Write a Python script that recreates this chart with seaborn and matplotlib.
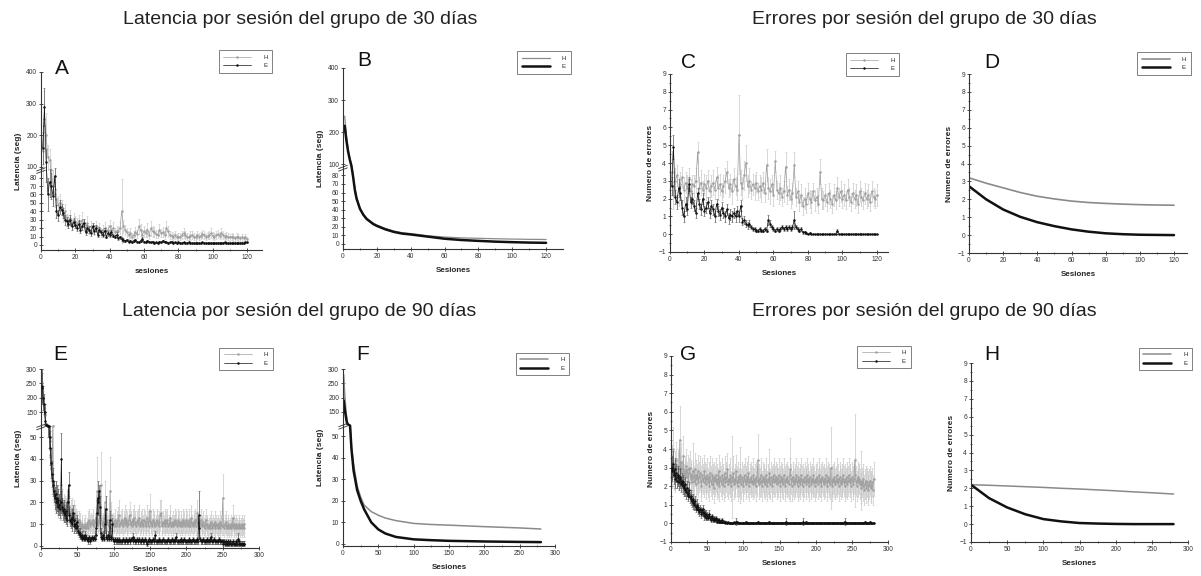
import numpy as np
import matplotlib
matplotlib.use("Agg")
import matplotlib.pyplot as plt
import seaborn as sns

# ---------------------------------------------------------------- data
# Grupo de 30 días: latencia media por sesión (seg) y su error
A_H = [150, 250, 200, 130, 120, 90, 70, 60, 55, 48,
       50, 45, 35, 40, 30, 28, 32, 25, 30, 27,
       25, 28, 22, 30, 24, 20, 26, 18, 22, 20,
       18, 22, 17, 20, 15, 18, 20, 16, 18, 22,
       18, 20, 15, 17, 16, 20, 40, 22, 18, 15,
       12, 14, 10, 12, 15, 13, 22, 18, 12, 16,
       14, 18, 12, 20, 16, 15, 13, 12, 18, 14,
       15, 12, 20, 16, 12, 11, 10, 12, 9, 10,
       10, 12, 14, 12, 10, 9, 11, 12, 10, 9,
       12, 10, 11, 13, 12, 10, 11, 12, 14, 11,
       10, 12, 13, 11, 14, 12, 10, 11, 10, 9,
       10, 9, 8, 10, 9, 8, 9, 8, 9, 7]
A_H_ERR = [80, 90, 70, 40, 35, 25, 20, 15, 12, 10,
           10, 9, 8, 9, 7, 8, 9, 6, 8, 7,
           7, 8, 6, 9, 7, 6, 8, 5, 7, 6,
           6, 7, 5, 6, 5, 6, 7, 5, 6, 8,
           6, 7, 5, 6, 5, 7, 38, 8, 6, 5,
           5, 6, 4, 5, 6, 5, 9, 7, 5, 6,
           5, 8, 5, 9, 6, 6, 5, 4, 7, 5,
           6, 5, 8, 6, 5, 4, 4, 5, 4, 4,
           4, 5, 6, 5, 4, 4, 5, 5, 4, 4,
           5, 4, 4, 5, 5, 4, 4, 5, 6, 4,
           4, 5, 5, 4, 6, 5, 4, 4, 4, 4,
           4, 4, 3, 4, 4, 3, 4, 3, 4, 3]
A_E = [160, 290, 115, 60, 75, 70, 58, 82, 40, 35,
       45, 42, 38, 30, 28, 25, 30, 22, 27, 24,
       20, 25, 18, 22, 26, 15, 20, 18, 14, 22,
       16, 20, 12, 18, 15, 12, 17, 10, 14, 12,
       15, 11, 10, 12, 8, 9, 7, 6, 5, 6,
       4, 5, 3, 5, 6, 4, 3, 5, 7, 4,
       3, 5, 4, 3, 4, 2, 3, 2, 4, 3,
       5, 4, 3, 2, 3, 4, 2, 3, 2, 3,
       2, 2, 3, 2, 2, 3, 2, 2, 2, 2,
       2, 2, 2, 3, 2, 2, 2, 2, 2, 2,
       2, 2, 2, 2, 2, 2, 3, 2, 2, 2,
       2, 2, 2, 2, 2, 2, 2, 2, 3, 3]
A_E_ERR = [50, 60, 40, 20, 18, 15, 12, 15, 8, 7,
           8, 7, 6, 6, 5, 5, 6, 4, 5, 4,
           4, 5, 4, 4, 5, 3, 4, 4, 3, 4,
           3, 4, 3, 3, 3, 3, 3, 2, 3, 3,
           3, 2, 2, 3, 2, 2, 2, 2, 1, 1,
           1, 1, 1, 1, 1, 1, 1, 1, 2, 1,
           1, 1, 1, 1, 1, 1, 1, 1, 1, 1,
           1, 1, 1, 1, 1, 1, 1, 1, 1, 1,
           1, 1, 1, 1, 1, 1, 1, 1, 1, 1,
           1, 1, 1, 1, 1, 1, 1, 1, 1, 1,
           1, 1, 1, 1, 1, 1, 1, 1, 1, 1,
           1, 1, 1, 1, 1, 1, 1, 1, 1, 1]

# Curvas ajustadas de latencia, grupo de 30 días
B_X = [1, 2, 3, 4, 5, 6, 7, 8, 10, 12, 14, 16, 18, 20, 25, 30, 35, 40,
       50, 60, 70, 80, 90, 100, 110, 120]
B_H = [250, 190, 150, 120, 100, 80, 65, 55, 42, 35, 30, 27, 24, 22, 18, 15,
       13, 12, 9.5, 8, 7, 6.5, 6, 5.6, 5.3, 5.1]
B_E = [220, 175, 140, 115, 95, 78, 63, 53, 41, 34, 29, 26, 23, 21, 17, 14,
       12, 11, 8.5, 6, 4.5, 3.5, 2.6, 2.0, 1.5, 1.2]

# Grupo de 30 días: número de errores por sesión
C_H = [3.5, 2.2, 3.0, 3.3, 2.4, 2.8, 3.2, 2.5, 2.9, 2.6,
       3.1, 2.4, 2.8, 2.7, 3.0, 4.6, 2.6, 2.9, 2.5, 2.8,
       2.6, 3.0, 2.4, 2.7, 2.9, 2.5, 3.2, 2.6, 2.8, 2.4,
       2.7, 3.0, 3.5, 2.6, 2.8, 2.4, 3.1, 2.7, 2.5, 5.6,
       2.9, 2.6, 3.3, 4.0, 2.7, 3.0, 2.5, 2.8, 2.6, 2.9,
       2.4, 2.7, 2.5, 2.9, 2.3, 3.9, 2.6, 2.4, 2.8, 2.2,
       4.1, 2.5, 2.3, 2.6, 2.1, 2.4, 3.8, 2.2, 2.5, 2.0,
       2.3, 3.9, 2.1, 2.4, 1.8, 2.2, 1.6, 2.0, 1.7, 2.3,
       2.0, 1.8, 2.4, 1.9, 2.1, 1.7, 3.5, 2.0, 1.9, 2.2,
       1.8, 2.3, 2.0, 1.7, 2.2, 1.9, 2.6, 2.1, 2.4, 2.0,
       2.2, 1.9, 2.5, 2.1, 1.8, 2.3, 2.0, 2.2, 1.7, 2.4,
       2.1, 1.9, 2.3, 2.0, 2.2, 1.8, 2.4, 2.1, 2.0, 2.2]
C_H_ERR = [1.2, 0.8, 0.7, 0.6, 0.8, 0.7, 0.6, 0.7, 0.6, 0.7,
           0.6, 0.7, 0.5, 0.6, 0.7, 0.6, 0.6, 0.7, 0.5, 0.6,
           0.7, 0.6, 0.5, 0.6, 0.7, 0.5, 0.6, 0.7, 0.6, 0.5,
           0.6, 0.7, 0.6, 0.5, 0.6, 0.7, 0.6, 0.5, 0.6, 2.2,
           0.7, 0.6, 0.8, 1.0, 0.6, 0.7, 0.5, 0.6, 0.7, 0.6,
           0.5, 0.6, 0.7, 0.6, 0.5, 0.9, 0.6, 0.7, 0.5, 0.6,
           0.6, 0.5, 0.6, 0.7, 0.5, 0.6, 0.8, 0.5, 0.6, 0.5,
           0.6, 0.7, 0.5, 0.6, 0.5, 0.6, 0.5, 0.6, 0.5, 0.6,
           0.5, 0.6, 0.5, 0.6, 0.5, 0.5, 0.7, 0.6, 0.5, 0.6,
           0.5, 0.6, 0.5, 0.5, 0.6, 0.5, 0.6, 0.5, 0.6, 0.5,
           0.6, 0.5, 0.6, 0.5, 0.5, 0.6, 0.5, 0.6, 0.5, 0.6,
           0.5, 0.5, 0.6, 0.5, 0.6, 0.5, 0.6, 0.5, 0.5, 0.6]
C_E = [2.7, 4.9, 2.1, 1.8, 2.6, 2.3, 1.5, 1.0, 1.7, 1.4,
       2.8, 1.8, 2.0, 1.6, 1.2, 2.3, 1.7, 1.4, 2.0, 1.3,
       1.5, 1.8, 1.2, 1.6, 1.4, 1.0, 1.7, 1.3, 1.1, 1.5,
       1.2, 1.0, 1.4, 0.9, 1.1, 1.0, 1.2, 1.0, 1.3, 1.0,
       1.6, 0.7, 0.8, 0.6, 0.5, 0.6, 0.4, 0.3, 0.3, 0.2,
       0.2, 0.3, 0.2, 0.2, 0.3, 0.2, 0.8, 0.6, 0.4, 0.3,
       0.2, 0.3, 0.2, 0.3, 0.4, 0.3, 0.4, 0.3, 0.4, 0.3,
       0.4, 0.8, 0.4, 0.3, 0.2, 0.3, 0.1, 0.1, 0.05, 0.0,
       0.05, 0.0, 0.0, 0.0, 0.0, 0.0, 0.0, 0.0, 0.0, 0.0,
       0.0, 0.0, 0.0, 0.0, 0.0, 0.0, 0.2, 0.0, 0.0, 0.0,
       0.0, 0.0, 0.0, 0.0, 0.0, 0.0, 0.0, 0.0, 0.0, 0.0,
       0.0, 0.0, 0.0, 0.0, 0.0, 0.0, 0.0, 0.0, 0.0, 0.0]
C_E_ERR = [0.5, 0.7, 0.4, 0.4, 0.5, 0.4, 0.4, 0.3, 0.4, 0.3,
           0.4, 0.3, 0.3, 0.3, 0.3, 0.3, 0.3, 0.3, 0.3, 0.3,
           0.3, 0.3, 0.3, 0.3, 0.3, 0.3, 0.3, 0.3, 0.3, 0.3,
           0.3, 0.3, 0.3, 0.3, 0.3, 0.3, 0.3, 0.3, 0.3, 0.3,
           0.3, 0.2, 0.2, 0.2, 0.2, 0.2, 0.1, 0.1, 0.1, 0.1,
           0.1, 0.1, 0.1, 0.1, 0.1, 0.1, 0.3, 0.2, 0.1, 0.1,
           0.1, 0.1, 0.1, 0.1, 0.1, 0.1, 0.1, 0.1, 0.1, 0.1,
           0.1, 0.5, 0.1, 0.1, 0.1, 0.1, 0.1, 0.1, 0.05, 0.0,
           0.05, 0.0, 0.0, 0.0, 0.0, 0.0, 0.0, 0.0, 0.0, 0.0,
           0.0, 0.0, 0.0, 0.0, 0.0, 0.0, 0.1, 0.0, 0.0, 0.0,
           0.0, 0.0, 0.0, 0.0, 0.0, 0.0, 0.0, 0.0, 0.0, 0.0,
           0.0, 0.0, 0.0, 0.0, 0.0, 0.0, 0.0, 0.0, 0.0, 0.0]

# Curvas ajustadas de errores, grupo de 30 días
D_X = [0, 10, 20, 30, 40, 50, 60, 70, 80, 90, 100, 110, 120]
D_H = [3.2, 2.9, 2.64, 2.38, 2.17, 2.02, 1.9, 1.82, 1.77, 1.73, 1.70, 1.68, 1.67]
D_E = [2.73, 2.0, 1.43, 1.02, 0.72, 0.5, 0.32, 0.19, 0.1, 0.05, 0.02, 0.01, 0.0]

# Grupo de 90 días: latencia media por sesión (seg) y su error
E_H = [250, 220, 190, 170, 140, 110, 90, 75, 65, 58,
       52, 48, 42, 36, 30, 55, 26, 24, 22, 20,
       24, 20, 18, 22, 19, 16, 20, 18, 21, 17,
       19, 16, 18, 15, 17, 20, 16, 14, 18, 15,
       16, 14, 17, 13, 15, 12, 14, 13, 11, 12,
       10, 12, 9, 11, 8, 10, 9, 7, 9, 8,
       10, 8, 9, 11, 8, 12, 10, 9, 11, 10,
       12, 10, 9, 11, 13, 10, 25, 12, 10, 11,
       14, 28, 12, 10, 11, 9, 13, 20, 11, 10,
       12, 10, 9, 11, 25, 14, 12, 10, 11, 9,
       10, 12, 9, 11, 10, 12, 14, 9, 10, 11,
       12, 10, 9, 11, 13, 10, 12, 9, 11, 10,
       12, 14, 10, 11, 9, 12, 10, 13, 11, 10,
       9, 11, 12, 10, 13, 9, 11, 10, 12, 9,
       10, 12, 11, 9, 10, 13, 11, 9, 12, 16,
       10, 11, 9, 12, 10, 11, 9, 10, 12, 11,
       10, 9, 11, 14, 15, 10, 9, 11, 10, 12,
       9, 11, 10, 12, 9, 10, 11, 13, 9, 10,
       11, 9, 10, 12, 10, 11, 9, 10, 12, 11,
       9, 10, 11, 9, 12, 10, 11, 9, 10, 12,
       11, 9, 10, 12, 9, 11, 13, 10, 9, 11,
       10, 12, 9, 11, 15, 10, 9, 11, 10, 12,
       9, 10, 11, 9, 8, 10, 12, 9, 10, 8,
       9, 10, 8, 11, 9, 8, 10, 9, 11, 8,
       10, 9, 8, 10, 9, 11, 8, 10, 9, 22,
       9, 8, 10, 9, 11, 8, 9, 10, 8, 9,
       10, 8, 9, 13, 8, 10, 9, 8, 10, 9,
       8, 10, 9, 8, 9, 10, 8, 9, 8, 10]
E_H_ERR = [50, 40, 35, 30, 25, 20, 15, 12, 10, 8,
           8, 7, 7, 6, 6, 20, 5, 5, 6, 5,
           6, 5, 5, 6, 5, 4, 5, 6, 5, 4,
           5, 4, 5, 4, 5, 6, 4, 4, 5, 4,
           5, 4, 5, 4, 6, 4, 5, 4, 3, 4,
           3, 4, 3, 4, 3, 4, 3, 3, 4, 3,
           4, 3, 4, 5, 3, 5, 4, 3, 4, 4,
           5, 4, 3, 4, 5, 4, 16, 5, 4, 4,
           6, 15, 5, 4, 4, 3, 5, 10, 4, 4,
           5, 4, 3, 4, 16, 6, 5, 4, 4, 3,
           4, 5, 4, 5, 4, 6, 7, 4, 4, 5,
           5, 4, 4, 5, 6, 4, 5, 4, 5, 4,
           5, 6, 4, 5, 4, 5, 4, 6, 5, 4,
           4, 5, 5, 4, 6, 4, 5, 4, 5, 4,
           4, 5, 5, 4, 4, 6, 5, 4, 5, 8,
           4, 5, 4, 5, 4, 5, 4, 4, 5, 5,
           4, 4, 5, 7, 6, 4, 4, 5, 4, 5,
           4, 5, 4, 5, 4, 4, 5, 6, 4, 4,
           5, 4, 4, 5, 4, 5, 4, 4, 5, 5,
           4, 4, 5, 4, 5, 4, 5, 4, 4, 5,
           5, 4, 4, 5, 4, 5, 6, 4, 4, 5,
           4, 5, 4, 5, 6, 4, 4, 5, 4, 5,
           4, 4, 5, 4, 4, 4, 5, 4, 4, 4,
           4, 4, 4, 5, 4, 4, 4, 4, 5, 4,
           4, 4, 4, 4, 4, 5, 4, 4, 4, 11,
           4, 4, 4, 4, 5, 4, 4, 4, 4, 4,
           4, 4, 4, 6, 4, 4, 4, 4, 4, 4,
           4, 4, 4, 4, 4, 4, 4, 4, 4, 4]
E_E = [240, 235, 200, 180, 150, 120, 95, 80, 70, 60,
       55, 50, 45, 38, 33, 30, 28, 25, 22, 24,
       20, 22, 18, 21, 19, 17, 20, 40, 18, 16,
       17, 15, 14, 16, 13, 12, 20, 28, 14, 12,
       11, 13, 10, 15, 12, 9, 10, 8, 11, 9,
       7, 6, 5, 6, 4, 5, 3, 4, 3, 5,
       3, 4, 3, 2, 3, 4, 3, 2, 3, 4,
       3, 3, 4, 3, 5, 8, 15, 22, 20, 25,
       18, 6, 4, 3, 5, 4, 3, 10, 17, 4,
       3, 5, 4, 3, 12, 4, 3, 10, 3, 2,
       2, 3, 2, 2, 3, 2, 2, 3, 2, 2,
       2, 2, 3, 2, 2, 2, 3, 2, 2, 2,
       3, 2, 2, 3, 3, 2, 4, 3, 2, 2,
       2, 3, 2, 2, 3, 2, 2, 2, 3, 2,
       2, 2, 3, 2, 2, 1, 2, 2, 3, 2,
       2, 2, 2, 3, 2, 2, 5, 2, 2, 2,
       2, 2, 3, 2, 2, 2, 2, 3, 2, 2,
       2, 2, 2, 2, 3, 2, 2, 2, 2, 3,
       2, 2, 2, 3, 2, 4, 2, 2, 2, 2,
       2, 3, 2, 2, 2, 2, 3, 2, 2, 2,
       2, 2, 2, 3, 2, 2, 2, 2, 3, 2,
       2, 2, 2, 3, 2, 2, 14, 8, 3, 2,
       2, 2, 3, 2, 2, 2, 2, 3, 2, 2,
       2, 3, 2, 4, 2, 2, 2, 3, 2, 2,
       2, 2, 2, 2, 3, 2, 2, 2, 2, 2,
       1, 2, 1, 2, 1, 1, 2, 1, 1, 2,
       1, 1, 1, 2, 1, 1, 1, 1, 2, 1,
       3, 2, 1, 1, 1, 1, 1, 1, 1, 1]
E_E_ERR = [60, 50, 40, 35, 30, 25, 20, 15, 12, 10,
           10, 9, 8, 7, 6, 6, 5, 5, 5, 6,
           5, 6, 4, 5, 5, 4, 5, 12, 4, 4,
           4, 4, 3, 4, 3, 3, 5, 6, 3, 3,
           3, 4, 3, 4, 3, 3, 3, 2, 3, 3,
           2, 2, 2, 2, 1, 2, 1, 1, 1, 2,
           1, 1, 1, 1, 1, 1, 1, 1, 1, 1,
           1, 1, 1, 1, 2, 3, 6, 8, 5, 3,
           5, 2, 1, 1, 2, 1, 1, 4, 6, 1,
           1, 2, 1, 1, 4, 1, 1, 3, 1, 1,
           1, 1, 1, 1, 1, 1, 1, 1, 1, 1,
           1, 1, 1, 1, 1, 1, 1, 1, 1, 1,
           1, 1, 1, 1, 1, 1, 2, 1, 1, 1,
           1, 1, 1, 1, 1, 1, 1, 1, 1, 1,
           1, 1, 1, 1, 1, 1, 1, 1, 1, 1,
           1, 1, 1, 1, 1, 1, 2, 1, 1, 1,
           1, 1, 1, 1, 1, 1, 1, 1, 1, 1,
           1, 1, 1, 1, 1, 1, 1, 1, 1, 1,
           1, 1, 1, 1, 1, 2, 1, 1, 1, 1,
           1, 1, 1, 1, 1, 1, 1, 1, 1, 1,
           1, 1, 1, 1, 1, 1, 1, 1, 1, 1,
           1, 1, 1, 1, 1, 1, 11, 5, 1, 1,
           1, 1, 1, 1, 1, 1, 1, 1, 1, 1,
           1, 1, 1, 2, 1, 1, 1, 1, 1, 1,
           1, 1, 1, 1, 1, 1, 1, 1, 1, 1,
           1, 1, 1, 1, 1, 1, 1, 1, 1, 1,
           1, 1, 1, 1, 1, 1, 1, 1, 1, 1,
           3, 1, 1, 1, 1, 1, 1, 1, 1, 1]

# Curvas ajustadas de latencia, grupo de 90 días
F_X = [1, 2, 3, 4, 5, 6, 8, 10, 12, 15, 20, 25, 30, 40, 50, 60, 75,
       100, 125, 150, 200, 250, 280]
F_H = [280, 230, 190, 160, 135, 115, 80, 56, 45, 37, 27, 21.7, 18, 15,
       13.3, 12, 10.8, 9.5, 9.0, 8.7, 8.0, 7.4, 6.9]
F_E = [190, 170, 150, 135, 120, 100, 75, 55, 44, 34, 25, 20, 16, 10,
       6.7, 4.8, 3.2, 2.1, 1.7, 1.4, 1.1, 0.9, 0.8]

# Grupo de 90 días: número de errores por sesión
G_H = [3.2, 2.8, 4.0, 2.6, 3.0, 2.5, 3.4, 2.7, 2.9, 3.1,
       2.6, 4.5, 2.8, 3.3, 2.5, 2.9, 3.6, 2.4, 2.8, 2.6,
       3.1, 2.5, 2.9, 2.3, 2.7, 3.0, 2.4, 2.6, 2.2, 2.8,
       2.5, 2.3, 2.9, 2.1, 2.6, 2.4, 2.8, 2.2, 2.5, 2.7,
       2.3, 2.0, 2.6, 2.4, 2.2, 2.8, 2.5, 2.1, 2.4, 2.6,
       2.2, 2.5, 2.0, 2.7, 2.3, 2.1, 2.6, 2.4, 1.9, 2.5,
       2.3, 2.6, 2.1, 2.4, 2.2, 2.8, 2.0, 2.5, 2.3, 2.1,
       2.6, 2.4, 2.0, 2.7, 2.2, 2.5, 2.3, 2.9, 2.1, 2.4,
       2.2, 2.6, 2.0, 2.5, 2.3, 2.7, 2.1, 2.4, 2.2, 2.8,
       2.3, 2.0, 2.5, 2.2, 2.6, 2.4, 2.1, 2.5, 2.3, 2.0,
       2.4, 2.6, 2.1, 2.3, 2.5, 2.2, 2.7, 2.0, 2.4, 2.2,
       2.5, 2.3, 2.1, 2.6, 2.2, 2.4, 2.0, 2.5, 2.3, 3.4,
       2.1, 2.4, 2.2, 2.6, 2.3, 2.0, 2.5, 2.2, 2.4, 2.1,
       2.6, 2.3, 2.0, 2.4, 2.2, 2.7, 2.1, 2.5, 2.3, 2.0,
       2.4, 2.6, 2.2, 2.3, 2.5, 2.1, 2.4, 2.2, 2.6, 2.3,
       2.0, 2.5, 2.2, 2.4, 2.1, 2.6, 2.3, 2.0, 2.4, 2.2,
       2.5, 2.3, 2.1, 2.6, 2.9, 2.4, 2.0, 2.5, 2.3, 2.1,
       2.4, 2.2, 2.6, 2.3, 2.0, 2.5, 2.2, 2.4, 2.1, 2.6,
       2.3, 2.0, 2.4, 2.2, 2.5, 2.3, 2.1, 2.6, 2.2, 2.4,
       2.0, 2.5, 2.3, 2.1, 2.4, 2.2, 2.6, 2.3, 2.0, 2.4,
       2.2, 2.5, 2.1, 2.3, 2.6, 2.2, 2.4, 2.0, 2.5, 2.3,
       2.1, 2.4, 2.2, 2.6, 2.3, 2.0, 2.5, 2.2, 2.4, 2.1,
       3.0, 2.3, 2.0, 2.4, 2.2, 2.5, 2.1, 2.3, 2.6, 2.2,
       2.4, 2.0, 2.5, 2.3, 2.1, 2.4, 2.2, 2.6, 2.3, 2.0,
       2.4, 2.2, 2.5, 2.1, 2.3, 2.6, 2.2, 2.4, 2.0, 2.5,
       2.3, 2.1, 2.4, 3.4, 2.6, 2.3, 2.0, 2.5, 2.2, 2.4,
       2.1, 2.3, 1.9, 2.2, 2.0, 2.4, 1.8, 2.1, 2.3, 1.9,
       2.2, 2.0, 1.8, 2.1, 2.3, 1.9, 2.0, 2.2, 1.8, 2.4]
G_H_ERR = [1.0, 0.9, 1.2, 0.8, 0.9, 0.8, 1.0, 0.8, 0.9, 0.9,
           0.8, 1.8, 0.8, 1.0, 0.8, 0.8, 1.1, 0.8, 0.8, 0.8,
           0.9, 0.8, 0.8, 0.8, 0.8, 0.9, 0.8, 0.8, 0.8, 1.5,
           0.8, 0.8, 0.9, 0.8, 0.8, 0.8, 0.9, 0.8, 0.8, 0.9,
           0.8, 0.8, 0.9, 0.8, 0.8, 0.9, 0.8, 0.8, 0.8, 0.9,
           0.8, 0.8, 0.8, 0.9, 0.8, 0.8, 0.9, 0.8, 0.8, 0.8,
           0.8, 0.9, 0.8, 0.8, 0.8, 0.9, 0.8, 0.8, 0.8, 0.8,
           0.9, 0.8, 0.8, 0.9, 0.8, 0.8, 0.8, 0.9, 0.8, 0.8,
           0.8, 0.9, 0.8, 2.2, 0.8, 0.9, 0.8, 0.8, 0.8, 0.9,
           0.8, 0.8, 0.8, 0.8, 1.5, 0.8, 0.8, 0.8, 0.8, 0.8,
           0.8, 0.9, 0.8, 0.8, 0.8, 0.8, 0.9, 0.8, 0.8, 0.8,
           0.8, 0.8, 0.8, 0.9, 0.8, 0.8, 0.8, 0.8, 0.8, 1.4,
           0.8, 0.8, 0.8, 0.9, 0.8, 0.8, 0.8, 0.8, 0.8, 0.8,
           0.9, 0.8, 0.8, 0.8, 0.8, 1.3, 0.8, 0.8, 0.8, 0.8,
           0.8, 0.9, 0.8, 0.8, 0.8, 0.8, 0.8, 0.8, 0.9, 0.8,
           0.8, 0.8, 0.8, 0.8, 0.8, 0.9, 0.8, 0.8, 0.8, 0.8,
           0.8, 0.8, 0.8, 0.9, 1.7, 0.8, 0.8, 0.8, 0.8, 0.8,
           0.8, 0.8, 0.9, 0.8, 0.8, 0.8, 0.8, 0.8, 0.8, 0.9,
           0.8, 0.8, 0.8, 0.8, 0.8, 0.8, 0.8, 0.9, 0.8, 0.8,
           0.8, 0.8, 0.8, 0.8, 0.8, 0.8, 0.9, 0.8, 0.8, 0.8,
           0.8, 0.8, 0.8, 0.8, 0.9, 0.8, 0.8, 0.8, 0.8, 0.8,
           0.8, 0.8, 0.8, 0.9, 0.8, 0.8, 0.8, 0.8, 0.8, 0.8,
           2.2, 0.8, 0.8, 0.8, 0.8, 0.8, 0.8, 0.8, 0.9, 0.8,
           0.8, 0.8, 0.8, 0.8, 0.8, 0.8, 0.8, 0.9, 0.8, 0.8,
           0.8, 0.8, 0.8, 0.8, 0.8, 0.9, 0.8, 0.8, 0.8, 0.8,
           0.8, 0.8, 0.8, 2.5, 0.9, 0.8, 0.8, 0.8, 0.8, 0.8,
           0.8, 1.6, 0.8, 0.8, 0.8, 0.8, 0.8, 0.8, 0.8, 0.8,
           0.8, 0.8, 0.8, 0.8, 0.8, 0.8, 0.8, 0.8, 0.8, 0.9]
G_E = [3.0, 2.8, 3.2, 2.6, 2.9, 2.4, 2.7, 2.3, 2.5, 2.6,
       2.2, 2.4, 2.5, 2.1, 2.3, 2.0, 2.2, 1.9, 2.1, 1.8,
       1.7, 1.9, 1.5, 1.6, 1.8, 1.4, 1.3, 1.5, 1.2, 1.1,
       1.3, 1.0, 1.2, 0.9, 0.8, 1.0, 0.7, 0.9, 0.6, 0.8,
       0.7, 0.5, 0.6, 0.8, 0.4, 0.6, 0.5, 0.3, 0.5, 0.4,
       0.3, 0.5, 0.4, 0.3, 0.2, 0.4, 0.3, 0.2, 0.3, 0.2,
       0.2, 0.3, 0.1, 0.2, 0.2, 0.1, 0.2, 0.1, 0.1, 0.2,
       0.1, 0.05, 0.1, 0.05, 0.0, 0.05, 0.0, 0.0, 0.05, 0.0,
       0.0, 0.0, 0.0, 0.0, 0.0, 0.0, 0.05, 0.0, 0.0, 0.1,
       0.05, 0.0, 0.0, 0.0, 0.0, 0.0, 0.0, 0.0, 0.0, 0.0,
       0.0, 0.0, 0.05, 0.0, 0.0, 0.0, 0.0, 0.0, 0.0, 0.0,
       0.0, 0.0, 0.0, 0.0, 0.0, 0.0, 0.0, 0.0, 0.0, 0.05,
       0.0, 0.0, 0.0, 0.0, 0.0, 0.0, 0.0, 0.0, 0.0, 0.0,
       0.0, 0.0, 0.0, 0.0, 0.05, 0.0, 0.0, 0.0, 0.0, 0.0,
       0.0, 0.0, 0.0, 0.0, 0.0, 0.0, 0.0, 0.0, 0.0, 0.0,
       0.0, 0.0, 0.0, 0.0, 0.0, 0.0, 0.0, 0.0, 0.1, 0.0,
       0.0, 0.0, 0.0, 0.0, 0.0, 0.0, 0.0, 0.0, 0.0, 0.0,
       0.0, 0.0, 0.0, 0.0, 0.0, 0.0, 0.0, 0.0, 0.0, 0.0,
       0.0, 0.0, 0.1, 0.0, 0.0, 0.0, 0.05, 0.0, 0.0, 0.0,
       0.0, 0.0, 0.0, 0.0, 0.0, 0.0, 0.0, 0.0, 0.0, 0.0,
       0.0, 0.0, 0.0, 0.0, 0.0, 0.0, 0.0, 0.0, 0.0, 0.0,
       0.0, 0.0, 0.0, 0.0, 0.0, 0.0, 0.0, 0.0, 0.0, 0.0,
       0.0, 0.0, 0.0, 0.0, 0.0, 0.0, 0.0, 0.0, 0.0, 0.0,
       0.0, 0.0, 0.0, 0.0, 0.0, 0.0, 0.0, 0.0, 0.0, 0.1,
       0.0, 0.0, 0.0, 0.0, 0.0, 0.0, 0.0, 0.0, 0.0, 0.0,
       0.0, 0.0, 0.0, 0.0, 0.0, 0.0, 0.0, 0.0, 0.0, 0.0,
       0.0, 0.0, 0.0, 0.0, 0.0, 0.0, 0.0, 0.05, 0.0, 0.0,
       0.0, 0.0, 0.0, 0.0, 0.05, 0.0, 0.0, 0.0, 0.0, 0.0]
G_E_ERR = [0.6, 0.5, 0.7, 0.5, 0.6, 0.5, 0.5, 0.4, 0.5, 0.5,
           0.4, 0.5, 0.5, 0.4, 0.4, 0.4, 0.4, 0.4, 0.4, 0.3,
           0.4, 0.4, 0.3, 0.3, 0.4, 0.3, 0.3, 0.3, 0.3, 0.3,
           0.3, 0.3, 0.3, 0.2, 0.2, 0.3, 0.2, 0.2, 0.2, 0.2,
           0.2, 0.2, 0.2, 0.2, 0.2, 0.2, 0.2, 0.1, 0.2, 0.2,
           0.1, 0.2, 0.1, 0.1, 0.1, 0.1, 0.1, 0.1, 0.1, 0.1,
           0.1, 0.1, 0.1, 0.1, 0.1, 0.1, 0.1, 0.1, 0.1, 0.1,
           0.1, 0.05, 0.1, 0.05, 0.0, 0.05, 0.0, 0.0, 0.05, 0.0,
           0.0, 0.0, 0.0, 0.0, 0.0, 0.0, 0.05, 0.0, 0.0, 0.2,
           0.1, 0.0, 0.0, 0.0, 0.0, 0.0, 0.0, 0.0, 0.0, 0.0,
           0.0, 0.0, 0.1, 0.0, 0.0, 0.0, 0.0, 0.0, 0.0, 0.0,
           0.0, 0.0, 0.0, 0.0, 0.0, 0.0, 0.0, 0.0, 0.0, 0.1,
           0.0, 0.0, 0.0, 0.0, 0.0, 0.0, 0.0, 0.0, 0.0, 0.0,
           0.0, 0.0, 0.0, 0.0, 0.1, 0.0, 0.0, 0.0, 0.0, 0.0,
           0.0, 0.0, 0.0, 0.0, 0.0, 0.0, 0.0, 0.0, 0.0, 0.0,
           0.0, 0.0, 0.0, 0.0, 0.0, 0.0, 0.0, 0.0, 0.2, 0.0,
           0.0, 0.0, 0.0, 0.0, 0.0, 0.0, 0.0, 0.0, 0.0, 0.0,
           0.0, 0.0, 0.0, 0.0, 0.0, 0.0, 0.0, 0.0, 0.0, 0.0,
           0.0, 0.0, 0.2, 0.0, 0.0, 0.0, 0.1, 0.0, 0.0, 0.0,
           0.0, 0.0, 0.0, 0.0, 0.0, 0.0, 0.0, 0.0, 0.0, 0.0,
           0.0, 0.0, 0.0, 0.0, 0.0, 0.0, 0.0, 0.0, 0.0, 0.0,
           0.0, 0.0, 0.0, 0.0, 0.0, 0.0, 0.0, 0.0, 0.0, 0.0,
           0.0, 0.0, 0.0, 0.0, 0.0, 0.0, 0.0, 0.0, 0.0, 0.0,
           0.0, 0.0, 0.0, 0.0, 0.0, 0.0, 0.0, 0.0, 0.0, 0.2,
           0.0, 0.0, 0.0, 0.0, 0.0, 0.0, 0.0, 0.0, 0.0, 0.0,
           0.0, 0.0, 0.0, 0.0, 0.0, 0.0, 0.0, 0.0, 0.0, 0.0,
           0.0, 0.0, 0.0, 0.0, 0.0, 0.0, 0.0, 0.1, 0.0, 0.0,
           0.0, 0.0, 0.0, 0.0, 0.1, 0.0, 0.0, 0.0, 0.0, 0.0]

# Curvas ajustadas de errores, grupo de 90 días
H_X = [0, 25, 50, 75, 100, 125, 150, 175, 200, 225, 250, 280]
H_H = [2.2, 2.17, 2.13, 2.09, 2.05, 2.0, 1.96, 1.91, 1.86, 1.8, 1.75, 1.68]
H_E = [2.2, 1.45, 0.93, 0.55, 0.28, 0.15, 0.06, 0.03, 0.01, 0.0, 0.0, 0.0]

TITULOS = ["Latencia por sesión del grupo de 30 días",
           "Errores por sesión del grupo de 30 días",
           "Latencia por sesión del grupo de 90 días",
           "Errores por sesión del grupo de 90 días"]
SERIES = ["H", "E"]

# ---------------------------------------------------------------- style
sns.set_theme(style="ticks")
plt.rcParams["font.family"] = ["Liberation Sans", "DejaVu Sans"]
plt.rcParams["axes.linewidth"] = 0.8

W, H = 1201, 576
fig = plt.figure(figsize=(W / 100, H / 100), dpi=100)
fig.patch.set_facecolor("white")

GRIS = "#a0a0a0"
GRIS_ERR = "#c8c8c8"
NEGRO = "#111111"


def add_ax(l, t, r, b):
    return fig.add_axes([l / W, 1 - b / H, (r - l) / W, (b - t) / H])


def broken(lo_end, hi_start, gap, ratio):
    ys = np.array([-1e6, lo_end, hi_start, 1e6])
    fs = np.array([-1e6, lo_end, lo_end + gap, lo_end + gap + (1e6 - hi_start) * ratio])
    return (lambda y: np.interp(y, ys, fs)), (lambda f: np.interp(f, fs, ys))


def style_axes(ax, xlim, xmaj, xmin, ylabel, xlabel):
    sns.despine(ax=ax)
    ax.set_facecolor("white")
    for s in ("left", "bottom"):
        ax.spines[s].set_color("#333333")
    ax.set_xlim(*xlim)
    ax.set_xticks(xmaj)
    ax.set_xticks(xmin, minor=True)
    ax.tick_params(axis="both", which="major", labelsize=4.8, length=2.6,
                   width=0.6, direction="inout", pad=1.5, colors="#333333")
    ax.tick_params(axis="both", which="minor", length=1.6, width=0.5,
                   direction="inout", colors="#333333")
    ax.set_ylabel(ylabel, fontsize=6, fontweight="bold", labelpad=3)
    ax.set_xlabel(xlabel, fontsize=5.8, fontweight="bold", labelpad=5)
    ax.grid(False)


def break_marks(ax, f_break, ylo_f, yhi_f):
    frac = (f_break - ylo_f) / (yhi_f - ylo_f)
    ax.plot([-0.02, 0.02], [frac - 0.012, frac + 0.006], transform=ax.transAxes,
            color="#333333", lw=0.6, clip_on=False, zorder=5)
    ax.plot([-0.02, 0.02], [frac - 0.026, frac - 0.008], transform=ax.transAxes,
            color="#333333", lw=0.6, clip_on=False, zorder=5)


def legend(ax, cx, cy):
    lg = ax.legend(loc="center", bbox_to_anchor=(cx / W, 1 - cy / H),
                   bbox_transform=fig.transFigure, fontsize=4.4, frameon=True,
                   fancybox=False, edgecolor="#808080", framealpha=1,
                   handlelength=4.6, handletextpad=2.0, borderpad=0.7,
                   labelspacing=0.5, borderaxespad=0)
    lg.get_frame().set_linewidth(0.7)


def noisy(ax, x, y, err, color, ecolor, name, z):
    ax.errorbar(x, y, yerr=err, fmt="none", ecolor=ecolor, elinewidth=0.5,
                capsize=0.8, capthick=0.4, zorder=z)
    sns.lineplot(x=x, y=y, ax=ax, color=color, linewidth=0.5, marker="o",
                 markersize=1.8, markeredgewidth=0, label=name, estimator=None,
                 zorder=z + 0.5)


lat30_fwd, lat30_inv = broken(88, 100, 5, 0.375)
lat90_fwd, lat90_inv = broken(55, 110, 1, 0.1333)

TICK_LAT30 = [0, 10, 20, 30, 40, 50, 60, 70, 80, 100, 200, 300, 400]
TICK_LAT90 = [0, 10, 20, 30, 40, 50, 150, 200, 250, 300]
X30 = ([0, 20, 40, 60, 80, 100, 120], [10, 30, 50, 70, 90, 110])
X90 = ([0, 50, 100, 150, 200, 250, 300], [25, 75, 125, 175, 225, 275])
ERR_TICKS = list(range(-1, 10))
ERR_MINOR = [v + 0.5 for v in range(-1, 9)]

ses30 = np.arange(1, len(A_H) + 1)
ses90 = np.arange(1, len(E_H) + 1)

# ---------------------------------------------------------------- A
ax = add_ax(41, 72, 262, 250)
ax.set_yscale("function", functions=(lat30_fwd, lat30_inv))
noisy(ax, ses30, A_H, A_H_ERR, GRIS, GRIS_ERR, SERIES[0], 2)
noisy(ax, ses30, A_E, A_E_ERR, NEGRO, "#555555", SERIES[1], 3)
ax.set_ylim(-6, 400)
ax.set_yticks(TICK_LAT30)
style_axes(ax, (0, 128.7), *X30, "Latencia (seg)", "sesiones")
break_marks(ax, 90.5, lat30_fwd(-6), lat30_fwd(400))
legend(ax, 245.5, 61.5)

# ---------------------------------------------------------------- B
ax = add_ax(343, 68, 563, 249)
ax.set_yscale("function", functions=(lat30_fwd, lat30_inv))
sns.lineplot(x=B_X, y=B_H, ax=ax, color="#8a8a8a", linewidth=0.9, label=SERIES[0])
sns.lineplot(x=B_X, y=B_E, ax=ax, color=NEGRO, linewidth=1.8, label=SERIES[1])
ax.set_ylim(-6, 400)
ax.set_yticks(TICK_LAT30)
style_axes(ax, (0, 130), *X30, "Latencia (seg)", "Sesiones")
break_marks(ax, 90.5, lat30_fwd(-6), lat30_fwd(400))
legend(ax, 544, 62.5)

# ---------------------------------------------------------------- C
ax = add_ax(670, 74, 888, 252)
noisy(ax, ses30, C_H, C_H_ERR, GRIS, GRIS_ERR, SERIES[0], 2)
noisy(ax, ses30, C_E, C_E_ERR, NEGRO, "#555555", SERIES[1], 3)
ax.set_ylim(-1, 9)
ax.set_yticks(ERR_TICKS)
ax.set_yticks(ERR_MINOR, minor=True)
style_axes(ax, (0, 126.4), *X30, "Numero de errores", "Sesiones")
legend(ax, 872.5, 64.5)

# ---------------------------------------------------------------- D
ax = add_ax(969, 74, 1187, 253)
sns.lineplot(x=D_X, y=D_H, ax=ax, color="#8a8a8a", linewidth=1.2, label=SERIES[0])
sns.lineplot(x=D_X, y=D_E, ax=ax, color=NEGRO, linewidth=1.8, label=SERIES[1])
ax.set_ylim(-1, 9)
ax.set_yticks(ERR_TICKS)
ax.set_yticks(ERR_MINOR, minor=True)
style_axes(ax, (0, 127.6), *X30, "Numero de errores", "Sesiones")
legend(ax, 1164, 63.5)

# ---------------------------------------------------------------- E
ax = add_ax(41, 369, 259, 548)
ax.set_yscale("function", functions=(lat90_fwd, lat90_inv))
noisy(ax, ses90, E_H, E_H_ERR, GRIS, GRIS_ERR, SERIES[0], 2)
noisy(ax, ses90, E_E, E_E_ERR, NEGRO, "#555555", SERIES[1], 3)
ax.set_ylim(-1, 300)
ax.set_yticks(TICK_LAT90)
style_axes(ax, (0, 300), *X90, "Latencia (seg)", "Sesiones")
break_marks(ax, 55.5, lat90_fwd(-1), lat90_fwd(300))
legend(ax, 246, 359)

# ---------------------------------------------------------------- F
ax = add_ax(343, 369, 555, 546)
ax.set_yscale("function", functions=(lat90_fwd, lat90_inv))
sns.lineplot(x=F_X, y=F_H, ax=ax, color="#8a8a8a", linewidth=1.1, label=SERIES[0])
sns.lineplot(x=F_X, y=F_E, ax=ax, color=NEGRO, linewidth=1.8, label=SERIES[1])
ax.set_ylim(-1, 300)
ax.set_yticks(TICK_LAT90)
style_axes(ax, (0, 300), *X90, "Latencia (seg)", "Sesiones")
break_marks(ax, 55.5, lat90_fwd(-1), lat90_fwd(300))
legend(ax, 542.5, 364)

# ---------------------------------------------------------------- G
ax = add_ax(671, 356, 888, 542)
noisy(ax, ses90, G_H, G_H_ERR, GRIS, GRIS_ERR, SERIES[0], 2)
noisy(ax, ses90, G_E, G_E_ERR, NEGRO, "#555555", SERIES[1], 3)
ax.set_ylim(-1, 9)
ax.set_yticks(ERR_TICKS)
ax.set_yticks(ERR_MINOR, minor=True)
style_axes(ax, (0, 300), *X90, "Numero de errores", "Sesiones")
legend(ax, 884, 357)

# ---------------------------------------------------------------- H
ax = add_ax(971, 363, 1188, 542)
sns.lineplot(x=H_X, y=H_H, ax=ax, color="#8a8a8a", linewidth=1.1, label=SERIES[0])
sns.lineplot(x=H_X, y=H_E, ax=ax, color=NEGRO, linewidth=1.8, label=SERIES[1])
ax.set_ylim(-1, 9)
ax.set_yticks(ERR_TICKS)
ax.set_yticks(ERR_MINOR, minor=True)
style_axes(ax, (0, 300), *X90, "Numero de errores", "Sesiones")
legend(ax, 1165.5, 359)

# ---------------------------------------------------------------- text
for letra, (px, py) in zip("ABCDEFGH",
                           [(62, 68), (364, 61), (688, 62), (992, 62),
                            (60, 355), (363, 355), (688, 354), (992, 355)]):
    fig.text(px / W, 1 - py / H, letra, fontsize=15, ha="center", va="center",
             color="#111111")

for titulo, (px, py) in zip(TITULOS, [(300, 19), (924, 19), (299, 312), (924, 312)]):
    fig.text(px / W, 1 - py / H, titulo, fontsize=14, ha="center", va="center",
             color="#222222")

fig.savefig("out.png", dpi=100, facecolor="white")
